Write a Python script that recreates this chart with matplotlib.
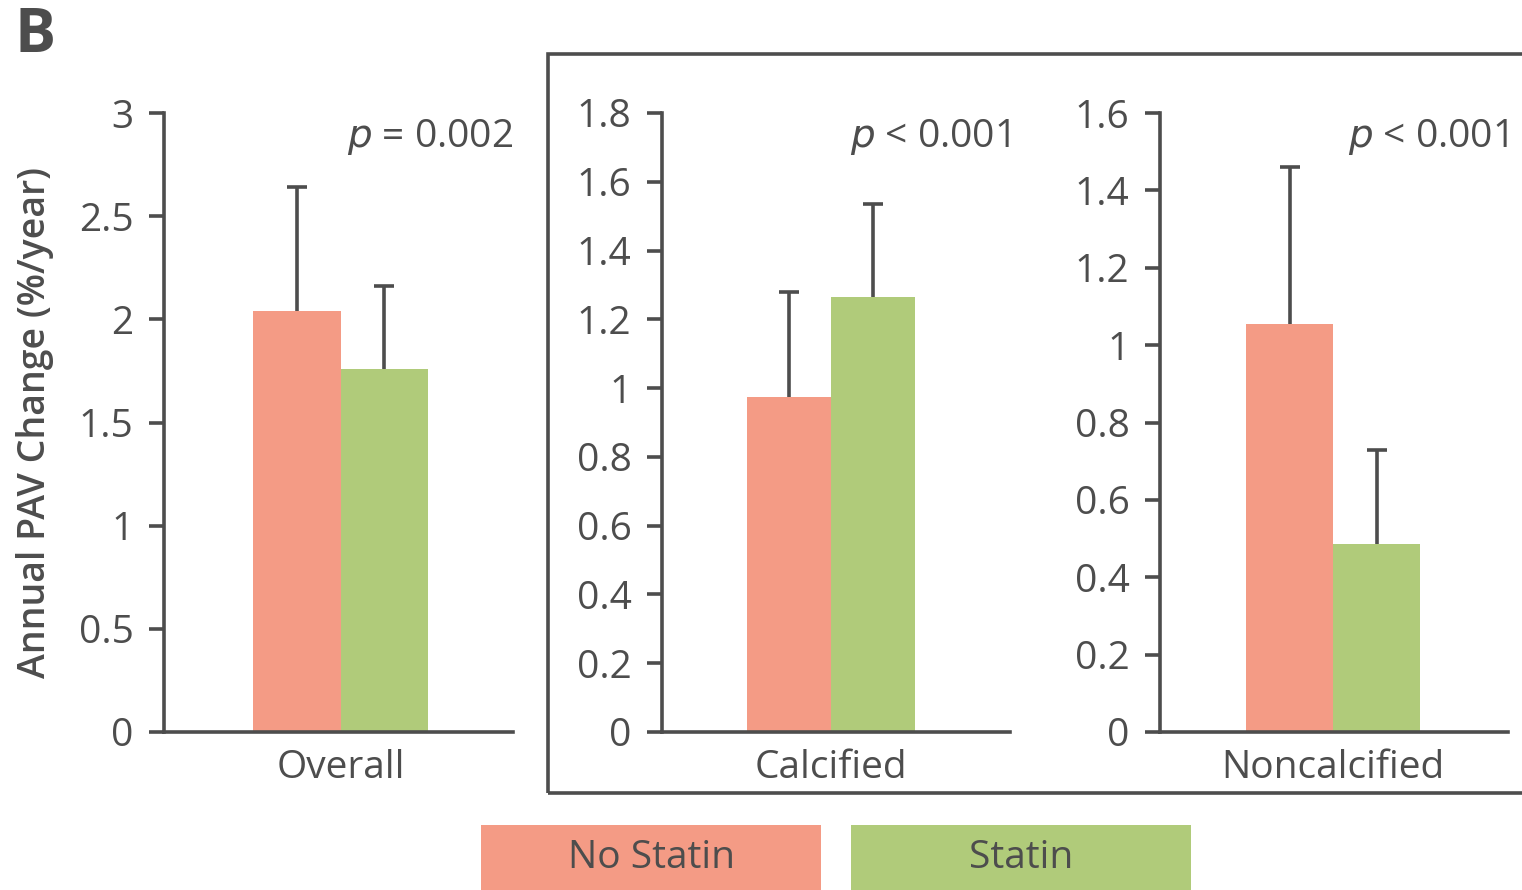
import matplotlib
matplotlib.use("Agg")
import matplotlib.pyplot as plt
from matplotlib.patches import Rectangle

plt.rcParams['font.family'] = ['Open Sans', 'DejaVu Sans']

# data
panels = ["Overall", "Calcified", "Noncalcified"]
no_statin_mean = [2.04, 0.975, 1.055]
no_statin_sd = [0.60, 0.305, 0.405]
statin_mean = [1.76, 1.265, 0.485]
statin_sd = [0.40, 0.27, 0.245]
p_labels = ["= 0.002", "< 0.001", "< 0.001"]
y_max = [3, 1.8, 1.6]
y_ticks = [[0, 0.5, 1, 1.5, 2, 2.5, 3],
           [0, 0.2, 0.4, 0.6, 0.8, 1, 1.2, 1.4, 1.6, 1.8],
           [0, 0.2, 0.4, 0.6, 0.8, 1, 1.2, 1.4, 1.6]]
legend_labels = ["No Statin", "Statin"]

red = "#F49B85"
green = "#B0CB7A"
dark = "#4D4D4D"

W, H = 1522, 890
fig = plt.figure(figsize=(W / 100, H / 100), dpi=100)

# axes placement in pixels: left, right
ax_px = [(164, 513), (662, 1010), (1160, 1508)]
xlims = [(-2.02, 1.97), (-2.02, 2.14), (-1.99, 2.01)]
y0_px, y1_px = 732, 113

for i, name in enumerate(panels):
    l, r = ax_px[i]
    ax = fig.add_axes([l / W, 1 - y0_px / H, (r - l) / W, (y0_px - y1_px) / H])
    ax.bar([-0.5, 0.5], [no_statin_mean[i], statin_mean[i]], width=1.0,
           color=[red, green], zorder=1)
    eb = ax.errorbar([-0.5, 0.5], [no_statin_mean[i], statin_mean[i]],
                     yerr=[[0, 0], [no_statin_sd[i], statin_sd[i]]],
                     fmt="none", ecolor=dark, elinewidth=2.6, capsize=7,
                     capthick=2.6, zorder=2)
    eb[1][0].set_visible(False)  # no cap at the bar top
    ax.set_xlim(*xlims[i])
    ax.set_ylim(0, y_max[i])
    ax.set_yticks(y_ticks[i])
    ax.set_yticklabels([f"{t:g}" for t in y_ticks[i]])
    ax.set_xticks([0])
    ax.set_xticklabels([name])
    for s in ["top", "right"]:
        ax.spines[s].set_visible(False)
    for s in ["left", "bottom"]:
        ax.spines[s].set_color(dark)
        ax.spines[s].set_linewidth(2.6)
    ax.tick_params(axis="y", length=11, width=2.6, color=dark, pad=11,
                   labelsize=28, labelcolor=dark)
    ax.tick_params(axis="x", length=0, pad=12, labelsize=28, labelcolor=dark)
    ax.text(1.0, 0.962, r"$\it{p}$ " + p_labels[i], transform=ax.transAxes,
            ha="right", va="center", fontsize=28, color=dark)

fig.text(35 / W, 1 - 422 / H, "Annual PAV Change (%/year)", rotation=90,
         ha="center", va="center", fontsize=27, color=dark, fontweight="semibold")
fig.text(15 / W, 1 - 37 / H, "B", ha="left", va="center", fontsize=44,
         fontweight="bold", color=dark)

# box around calcified / noncalcified panels
fig.patches.append(Rectangle((548 / W, 1 - 793 / H), (W + 20 - 548) / W,
                             (793 - 54) / H, transform=fig.transFigure,
                             fill=False, edgecolor=dark, linewidth=2.6))

# legend boxes
for (x0, x1), lab, c in zip([(481, 821), (851, 1191)], legend_labels, [red, green]):
    fig.patches.append(Rectangle((x0 / W, 0), (x1 - x0) / W, (890 - 825) / H,
                                 transform=fig.transFigure, color=c, lw=0))
    fig.text((x0 + x1) / 2 / W, 1 - 858 / H, lab, ha="center", va="center",
             fontsize=28, color=dark)

plt.savefig("out.png", dpi=100)
